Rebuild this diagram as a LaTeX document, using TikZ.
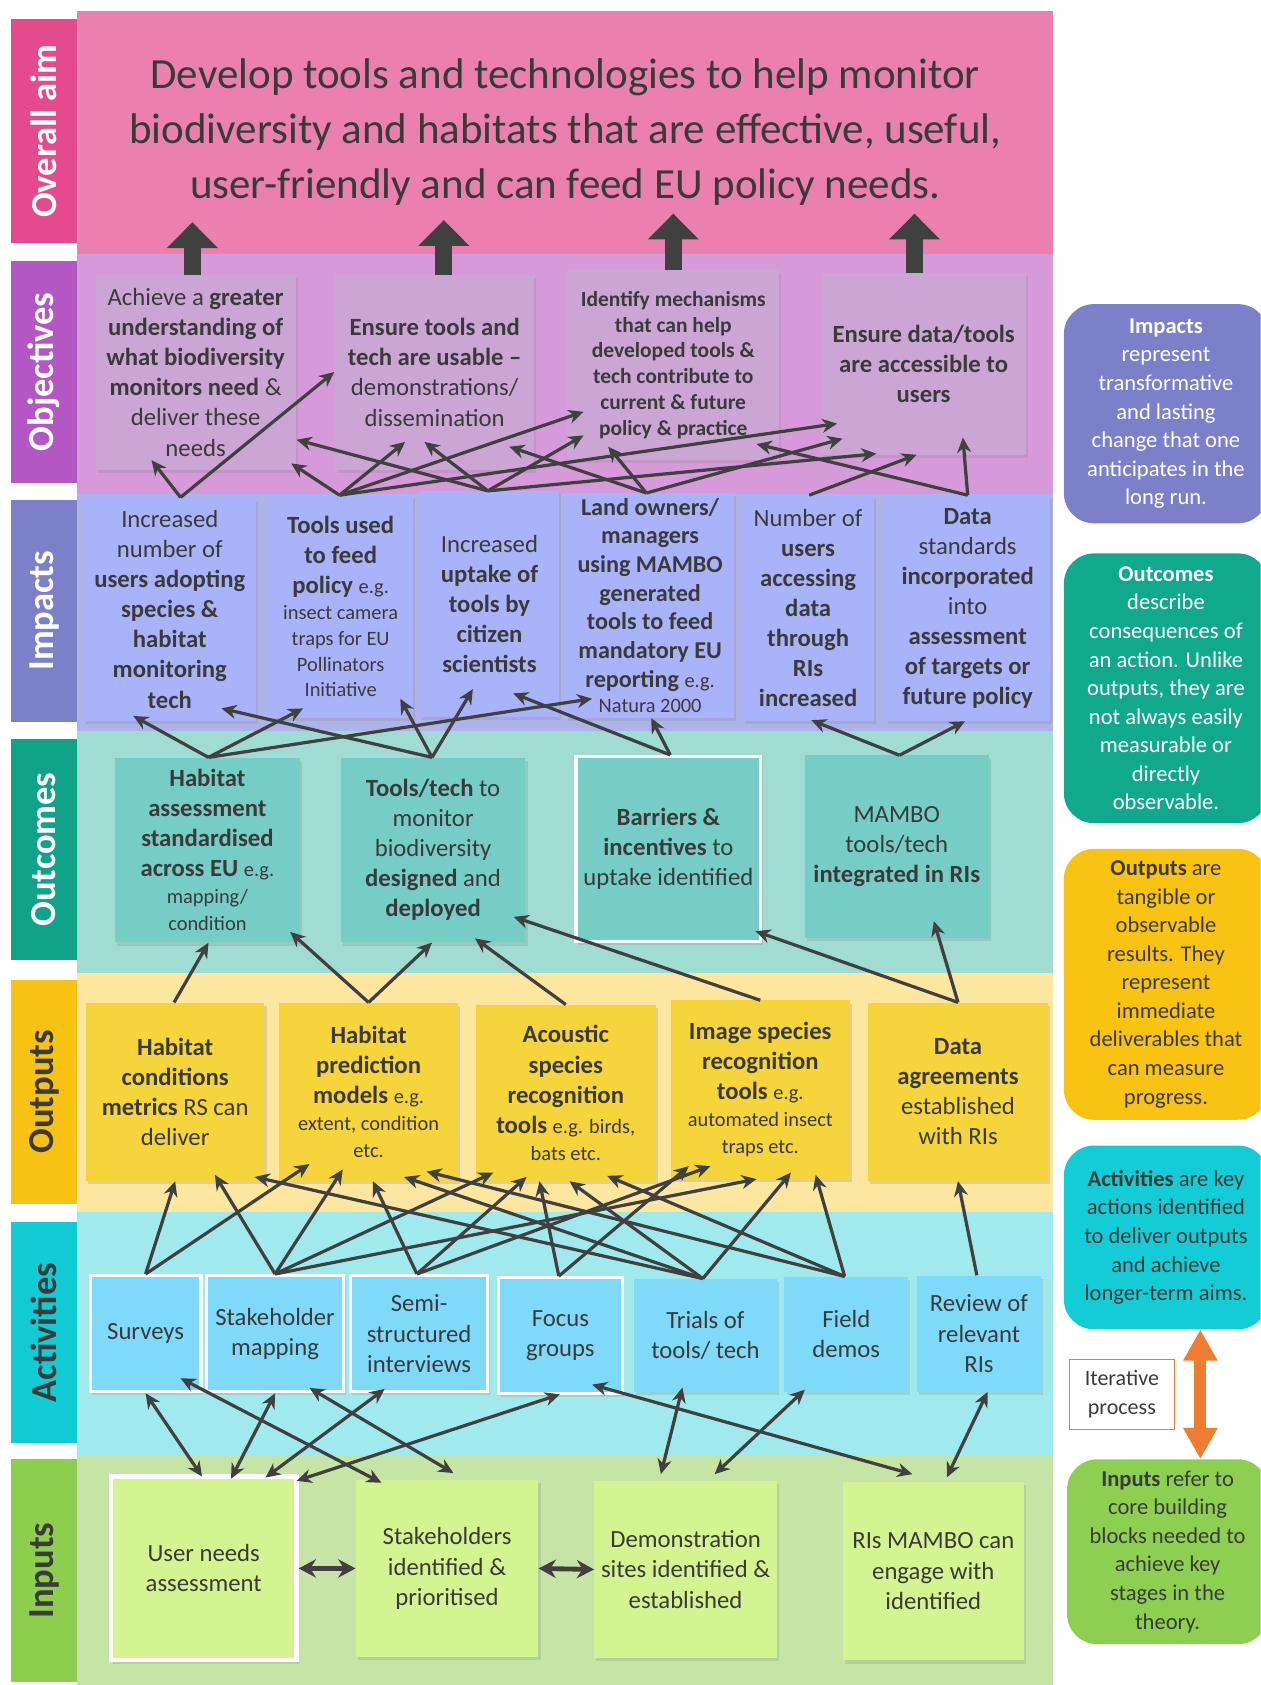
\documentclass[tikz,border=0pt]{standalone}
\usepackage{fontspec}
\setmainfont{Carlito}
\usepackage{tikz}
\usetikzlibrary{arrows.meta,shadows}

\definecolor{txt}{HTML}{3A3A3A}
\definecolor{arrowgray}{HTML}{404040}
\definecolor{iterorange}{HTML}{ED7D31}
\definecolor{aimband}{HTML}{EB7FAE}
\definecolor{aimstrip}{HTML}{E44A8E}
\definecolor{objband}{HTML}{D69ADB}
\definecolor{objstrip}{HTML}{B257C4}
\definecolor{objfill}{HTML}{CBA6D5}
\definecolor{impband}{HTML}{AEB3EA}
\definecolor{impstrip}{HTML}{7C80C8}
\definecolor{impfill}{HTML}{A9B3FA}
\definecolor{outband}{HTML}{A0DCD2}
\definecolor{outstrip}{HTML}{10A38A}
\definecolor{outfill}{HTML}{76CDC6}
\definecolor{optband}{HTML}{FDE6A0}
\definecolor{optstrip}{HTML}{F7C213}
\definecolor{optfill}{HTML}{F6D43C}
\definecolor{actband}{HTML}{A0EAEE}
\definecolor{actstrip}{HTML}{13CBD5}
\definecolor{actfill}{HTML}{7FDAF9}
\definecolor{inpband}{HTML}{C6E4A6}
\definecolor{inpstrip}{HTML}{8ECE4F}
\definecolor{inpfill}{HTML}{D4F492}
\definecolor{legimp}{HTML}{7B80C8}
\definecolor{legout}{HTML}{10A98B}
\definecolor{legopt}{HTML}{F9C313}
\definecolor{legact}{HTML}{14CCD6}
\definecolor{leginp}{HTML}{8DD051}

\newcommand{\boxfont}{\fontsize{23}{28}\selectfont}
\newcommand{\smallfont}{\fontsize{19}{24}\selectfont}
\newcommand{\egtext}[1]{{\smallfont #1}}
\newcommand{\legfont}{\fontsize{21}{26.6}\selectfont}

\tikzset{
  box/.style={align=center, text=txt, font=\boxfont, inner sep=0pt,
    drop shadow={shadow xshift=2pt, shadow yshift=-3pt, opacity=.22}},
  boxsize/.style 2 args={minimum width=#1pt, minimum height=#2pt},
  objbox/.style={box, fill=objfill},
  impbox/.style={box, fill=impfill},
  outbox/.style={box, fill=outfill},
  optbox/.style={box, fill=optfill},
  actbox/.style={box, fill=actfill},
  inpbox/.style={box, fill=inpfill},
  rim/.style={draw=white, line width=3pt},
  striplab/.style={rotate=90, font=\fontsize{34}{40}\selectfont\bfseries,
    minimum height=62pt, inner sep=0pt},
  legbox/.style={rounded corners=28pt, align=center, font=\legfont, inner sep=0pt},
  link/.style={draw=arrowgray, line width=3pt, -{Stealth[length=14pt,width=13pt]}},
  dlink/.style={draw=arrowgray, line width=3pt,
    {Stealth[length=14pt,width=13pt]}-{Stealth[length=14pt,width=13pt]}},
  hlink/.style={draw=arrowgray, line width=4.5pt,
    {Stealth[length=16pt,width=17pt]}-{Stealth[length=16pt,width=17pt]}},
  aimarrow/.style={draw=arrowgray, line width=16pt, -{Triangle[width=46pt,length=24pt]}},
  iterarrow/.style={draw=iterorange, line width=11pt,
    {Triangle[width=30pt,length=29pt]}-{Triangle[width=30pt,length=29pt]}}
}

\begin{document}
\begin{tikzpicture}[x=1pt,y=-1pt]
\clip (0,0) rectangle (1173,1568);
\fill[white] (0,0) rectangle (1173,1568);

% bands
\foreach \col/\ya/\yb in {aimband/10/236, objband/236/460, impband/460/680,
    outband/680/905, optband/905/1128, actband/1128/1355, inpband/1355/1568}
  \fill[\col] (72,\ya) rectangle (980,\yb);

% row labels
\foreach \id/\lab/\ya/\yb/\col/\tc in {aim/Overall aim/18/226/aimstrip/white,
    obj/Objectives/243/449/objstrip/white, imp/Impacts/465/672/impstrip/white,
    out/Outcomes/688/893/outstrip/white, opt/Outputs/912/1120/optstrip/txt,
    act/Activities/1137/1343/actstrip/txt, inp/Inputs/1358/1565/inpstrip/txt}
  \node[striplab, fill=\col, text=\tc, minimum width={(\yb-\ya)*1pt}]
    (\id-lab) at (41,{(\ya+\yb)/2}) {\lab};

\node[align=center, text=txt, font=\fontsize{40}{51}\selectfont] (aim) at (526,123)
  {Develop tools and technologies to help monitor\\
   biodiversity and habitats that are effective, useful,\\
   user-friendly and can feed EU policy needs.};

% objectives
\node[objbox, boxsize={186}{181}] (o1) at (182,346.5)
  {Achieve a \textbf{greater}\\ \textbf{understanding of}\\ \textbf{what biodiversity}\\
   \textbf{monitors need} \&\\ deliver these\\ needs};
\node[objbox, boxsize={185}{181}] (o2) at (404.5,346.5)
  {\textbf{Ensure tools and}\\ \textbf{tech are usable –}\\ demonstrations/\\ dissemination};
\node[objbox, boxsize={197}{177}, font=\fontsize{20}{24}\selectfont\bfseries] (o3) at (626.5,339.5)
  {Identify mechanisms\\ that can help\\ developed tools \&\\ tech contribute to\\
   current \& future\\ policy \& practice};
\node[objbox, boxsize={191}{169}, font=\boxfont\bfseries] (o4) at (859.5,338.5)
  {Ensure data/tools\\ are accessible to\\ users};

\foreach \t/\dx/\len in {o1/-3/49, o2/8.5/51, o3/0/52, o4/-8.5/55}
  \draw[aimarrow] ([shift={(\dx,0)}]\t.north) -- ++(0,-\len);

% impacts
\node[impbox, boxsize={160}{208}] (i1) at (158,567)
  {Increased\\ number of\\ \textbf{users adopting}\\ \textbf{species \&}\\ \textbf{habitat}\\
   \textbf{monitoring}\\ \textbf{tech}};
\node[impbox, boxsize={134}{207}] (i2) at (317,564.5)
  {\textbf{Tools used}\\ \textbf{to feed}\\ \textbf{policy} \egtext{e.g.}\\[-4pt]
   \egtext{insect camera}\\[-4pt] \egtext{traps for EU}\\[-4pt] \egtext{Pollinators}\\[-4pt]
   \egtext{Initiative}};
\node[impbox, boxsize={129}{210}] (i3) at (455.5,562)
  {Increased\\ \textbf{uptake of}\\ \textbf{tools by}\\ \textbf{citizen}\\ \textbf{scientists}};
\node[impbox, boxsize={156}{209}, font=\fontsize{22.5}{26.7}\selectfont] (i4) at (605,563.5)
  {\textbf{Land owners/}\\ \textbf{managers}\\ \textbf{using MAMBO}\\ \textbf{generated}\\
   \textbf{tools to feed}\\ \textbf{mandatory EU}\\ \textbf{reporting} \egtext{e.g.}\\[-3pt]
   \egtext{Natura 2000}};
\node[impbox, boxsize={122}{210}] (i5) at (752,566)
  {Number of\\ \textbf{users}\\ \textbf{accessing}\\ \textbf{data}\\ \textbf{through}\\
   \textbf{RIs}\\ \textbf{increased}};
\node[impbox, boxsize={153}{210}] (i6) at (900.5,566)
  {\textbf{Data}\\ standards\\ \textbf{incorporated}\\ into\\ \textbf{assessment}\\
   \textbf{of targets or}\\ \textbf{future policy}};

% outcomes
\node[outbox, boxsize={172}{172}] (oc1) at (193,791)
  {\textbf{Habitat}\\ \textbf{assessment}\\ \textbf{standardised}\\ \textbf{across EU} \egtext{e.g.}\\[-3pt]
   \egtext{mapping/}\\[-3pt] \egtext{condition}};
\node[outbox, boxsize={172}{172}] (oc2) at (403,791)
  {\textbf{Tools/tech} to\\ monitor\\ biodiversity\\ \textbf{designed} and\\ \textbf{deployed}};
\node[outbox, rim, boxsize={172}{172}] (oc3) at (622,790)
  {\textbf{Barriers \&}\\ \textbf{incentives} to\\ uptake identified};
\node[outbox, boxsize={171}{170}] (oc4) at (834.5,788)
  {MAMBO\\ tools/tech\\ \textbf{integrated in RIs}};

% outputs
\node[optbox, boxsize={166}{166}] (op1) at (163,1016)
  {\textbf{Habitat}\\ \textbf{conditions}\\ \textbf{metrics} RS can\\ deliver};
\node[optbox, boxsize={166}{166}] (op2) at (343,1016)
  {\textbf{Habitat}\\ \textbf{prediction}\\ \textbf{models} \egtext{e.g.}\\[-3pt]
   \egtext{extent, condition}\\[-3pt] \egtext{etc.}};
\node[optbox, boxsize={167}{164}] (op3) at (526.5,1017)
  {\textbf{Acoustic}\\ \textbf{species}\\ \textbf{recognition}\\ \textbf{tools} \egtext{e.g. birds,}\\[-3pt]
   \egtext{bats etc.}};
\node[optbox, boxsize={167}{166}] (op4) at (707.5,1014)
  {\textbf{Image species}\\ \textbf{recognition}\\ \textbf{tools} \egtext{e.g.}\\[-3pt]
   \egtext{automated insect}\\[-3pt] \egtext{traps etc.}};
\node[optbox, boxsize={167}{166}] (op5) at (891.5,1016)
  {\textbf{Data}\\ \textbf{agreements}\\ established\\ with RIs};

% activities
\node[actbox, rim, boxsize={103}{108}] (a1) at (135.5,1241) {Surveys};
\node[actbox, rim, boxsize={128}{108}] (a2) at (256,1241) {Stakeholder\\ mapping};
\node[actbox, rim, boxsize={128}{108}] (a3) at (390,1241) {Semi-\\ structured\\ interviews};
\node[actbox, rim, boxsize={115}{108}] (a4) at (521.5,1243) {Focus\\ groups};
\node[actbox, boxsize={133}{105}] (a5) at (656.5,1242.5) {Trials of\\ tools/ tech};
\node[actbox, boxsize={115}{107}] (a6) at (787.5,1241.5) {Field\\ demos};
\node[actbox, boxsize={116}{108}] (a7) at (911,1241) {Review of\\ relevant\\ RIs};

% inputs
\node[inpbox, rim, line width=4pt, boxsize={173}{171}] (in1) at (189.5,1459.5)
  {User needs\\ assessment};
\node[inpbox, boxsize={170}{165}] (in2) at (416,1459.5)
  {Stakeholders\\ identified \&\\ prioritised};
\node[inpbox, boxsize={170}{165}] (in3) at (638,1460.5)
  {Demonstration\\ sites identified \&\\ established};
\node[inpbox, boxsize={169}{166}] (in4) at (868.5,1462)
  {RIs MAMBO can\\ engage with\\ identified};

% impacts to objectives
\foreach \s/\sx/\t/\tx/\ty in {i1/10/o1/-41/-9, i1/10/o2/-93.5/-91,
    i2/-1/o1/89/-6, i2/-1/o2/-27.5/-26, i2/-1/o3/-83.5/-45, i2/-1/o4/-80.5/-29,
    i3/-1.5/o1/94/-28, i3/-1.5/o2/-9.5/-26, i3/-1.5/o3/-83.5/-23, i3/-1.5/o4/-44/-1,
    i4/-3.5/o2/69.5/-21.5, i4/-3.5/o3/-60.5/-12.5, i4/-3.5/o4/-75.5/-15,
    i5/1/o4/-6.5/0, i6/0/o4/36.5/-16, i6/0/o3/77.5/-15}
  \draw[link] ([shift={(\sx,0)}]\s.north) -- ([shift={(\tx,\ty)}]\t.south);

% outcomes to impacts
\foreach \s/\sx/\t/\tx/\ty in {oc1/1/i1/-34/-5, oc1/1/i2/-35/-9, oc1/1/i4/-54/-18,
    oc2/-1/i1/48/-12, oc2/-1/i2/55.5/-18, oc2/-1/i3/-15.5/-26,
    oc3/1.7/i4/1/0, oc3/1.7/i3/22/-22, oc4/2.5/i5/3/-1, oc4/2.5/i6/-2.5/0}
  \draw[link] ([shift={(\sx,0)}]\s.north) -- ([shift={(\tx,\ty)}]\t.south);

% outputs to outcomes
\foreach \s/\sx/\t/\tx/\ty in {op1/-1/oc1/1/0, op2/0/oc1/77/-10, op2/0/oc2/-1/0,
    op3/0/oc2/39/-4, op4/0/oc2/75/-24, op5/0/oc3/81/-11, op5/0/oc4/34.5/-16}
  \draw[link] ([shift={(\sx,0)}]\s.north) -- ([shift={(\tx,\ty)}]\t.south);

% activities to outputs
\foreach \s/\sx/\t/\tx/\ty in {a1/0/op1/0/0, a1/0/op2/-55/-16,
    a2/0/op1/37/-6, a2/0/op2/-24/-11, a2/0/op3/-67.5/-8, a2/0/op4/-3.5/0,
    a3/-2/op2/4/0, a3/-2/op3/-36.5/-4, a3/-2/op4/-46.5/-12,
    a4/-1.5/op3/-24.5/0, a4/-1.5/op4/-66.5/-12,
    a5/-2.5/op1/74/-4, a5/-2.5/op2/33/-4, a5/-2.5/op3/3.5/0, a5/-2.5/op4/28.5/-6,
    a6/-1.5/op2/54/-9, a6/-1.5/op3/38.5/-5, a6/-1.5/op4/51.5/-4, a7/-2/op5/0/0}
  \draw[link] ([shift={(\sx,0)}]\s.north) -- ([shift={(\tx,\ty)}]\t.south);

% activities and inputs
\foreach \s/\sx/\sy/\t/\tx/\ty in {a1/0/0/in1/-1.5/2, a2/0/0/in1/25.5/4,
    a3/-32/-4/in1/57.5/3, a4/-0.5/-1/in1/86.5/6, a1/32.5/-14/in2/-61/3,
    a2/32/-5/in2/6/-6, a5/-21.5/-4/in3/-23/-6, a6/-38.5/-2/in3/27/-6,
    a4/29.5/-10/in4/-19.5/-7, a7/8/0/in4/12.5/-4}
  \draw[dlink] ([shift={(\sx,\sy)}]\s.south) -- ([shift={(\tx,\ty)}]\t.north);

\draw[hlink] (in1.east) -- (in2.west);
\draw[hlink] (in2.east) -- (in3.west);

% key
\node[legbox, fill=legimp, text=white, minimum width=190pt, minimum height=204pt]
  (leg-imp) at (1085,385)
  {\textbf{Impacts}\\ represent\\ transformative\\ and lasting\\ change that one\\
   anticipates in the\\ long run.};
\node[legbox, fill=legout, text=white, minimum width=190pt, minimum height=251pt]
  (leg-out) at (1085,640.5)
  {\textbf{Outcomes}\\ describe\\ consequences of\\ an action. Unlike\\ outputs, they are\\
   not always easily\\ measurable or\\ directly\\ observable.};
\node[legbox, fill=legopt, text=txt, minimum width=190pt, minimum height=252pt]
  (leg-opt) at (1085,916)
  {\textbf{Outputs} are\\ tangible or\\ observable\\ results. They\\ represent\\
   immediate\\ deliverables that\\ can measure\\ progress.};
\node[legbox, fill=legact, text=txt, minimum width=190pt, minimum height=171pt]
  (leg-act) at (1085,1151.5)
  {\textbf{Activities} are key\\ actions identified\\ to deliver outputs\\ and achieve\\
   longer-term aims.};
\node[legbox, fill=leginp, text=txt, minimum width=187pt, minimum height=172pt]
  (leg-inp) at (1086.5,1444)
  {\textbf{Inputs} refer to\\ core building\\ blocks needed to\\ achieve key\\ stages in the\\
   theory.};

\node[draw=iterorange, line width=1.2pt, fill=white, align=center, text=txt,
  font=\fontsize{20.5}{27}\selectfont, minimum width=98pt, minimum height=65pt]
  (iter) at (1044,1297.5) {Iterative\\ process};
\draw[iterarrow] ([shift={(32,0)}]leg-act.south) -- ([shift={(30.5,0)}]leg-inp.north);
\end{tikzpicture}
\end{document}
